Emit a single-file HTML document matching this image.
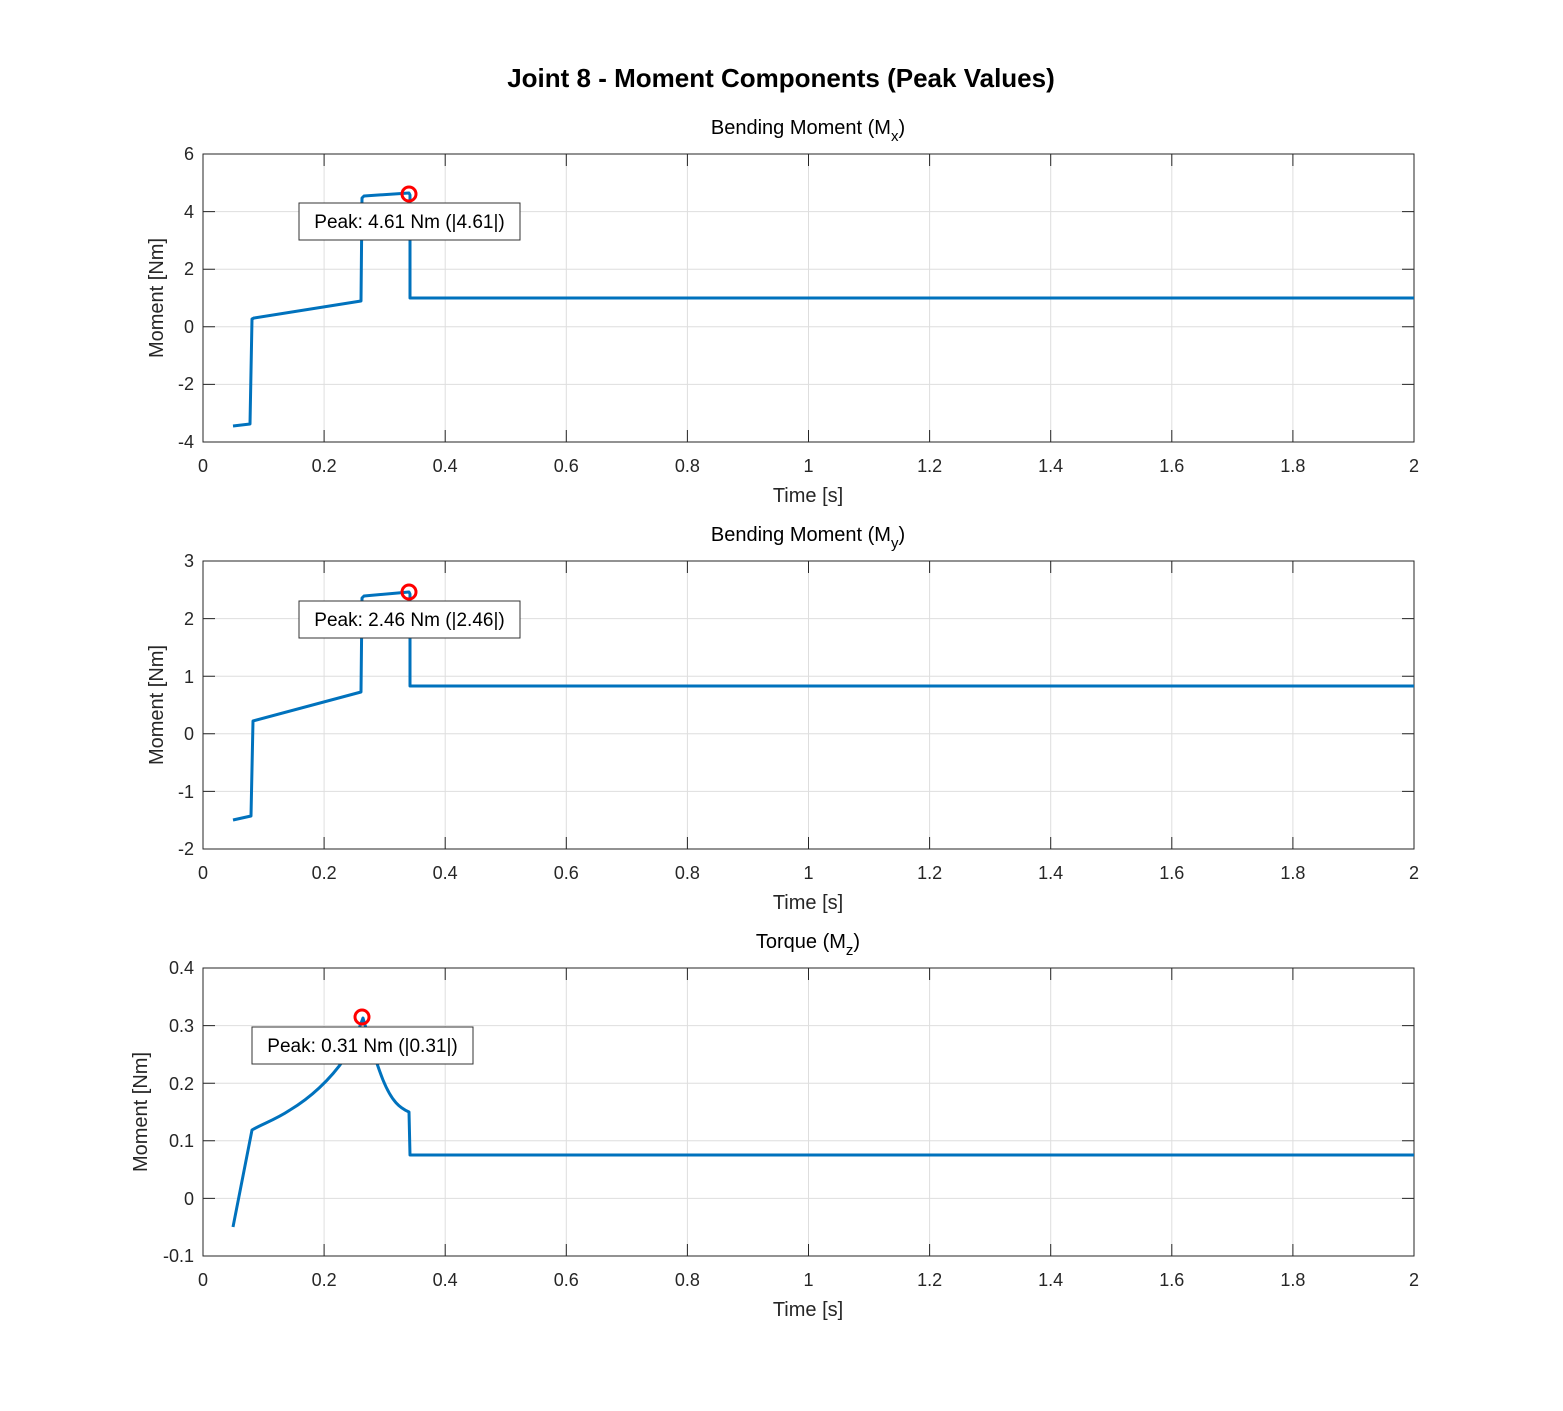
<!DOCTYPE html>
<html><head><style>body{margin:0;background:#fff}text{font-family:"Liberation Sans",Arial,sans-serif}</style></head><body>
<svg width="1563" height="1406" xmlns="http://www.w3.org/2000/svg">
<defs>
<g id="ax">
<g stroke="#dedede">
<line x1="324.1" y1="0" x2="324.1" y2="288"/><line x1="445.2" y1="0" x2="445.2" y2="288"/><line x1="566.3" y1="0" x2="566.3" y2="288"/><line x1="687.4" y1="0" x2="687.4" y2="288"/><line x1="808.5" y1="0" x2="808.5" y2="288"/><line x1="929.6" y1="0" x2="929.6" y2="288"/><line x1="1050.7" y1="0" x2="1050.7" y2="288"/><line x1="1171.8" y1="0" x2="1171.8" y2="288"/><line x1="1292.9" y1="0" x2="1292.9" y2="288"/>
<line x1="203" y1="57.6" x2="1414" y2="57.6"/><line x1="203" y1="115.2" x2="1414" y2="115.2"/><line x1="203" y1="172.8" x2="1414" y2="172.8"/><line x1="203" y1="230.4" x2="1414" y2="230.4"/>
</g>
<g stroke="#262626">
<path d="M324.1 0v12M445.2 0v12M566.3 0v12M687.4 0v12M808.5 0v12M929.6 0v12M1050.7 0v12M1171.8 0v12M1292.9 0v12M324.1 288v-12M445.2 288v-12M566.3 288v-12M687.4 288v-12M808.5 288v-12M929.6 288v-12M1050.7 288v-12M1171.8 288v-12M1292.9 288v-12M203 57.6h12M203 115.2h12M203 172.8h12M203 230.4h12M1414 57.6h-12M1414 115.2h-12M1414 172.8h-12M1414 230.4h-12"/>
<rect x="203" y="0" width="1211" height="288" fill="none"/>
</g>
<g font-size="18" fill="#262626" text-anchor="middle">
<text x="203" y="318">0</text><text x="324.1" y="318">0.2</text><text x="445.2" y="318">0.4</text><text x="566.3" y="318">0.6</text><text x="687.4" y="318">0.8</text><text x="808.5" y="318">1</text><text x="929.6" y="318">1.2</text><text x="1050.7" y="318">1.4</text><text x="1171.8" y="318">1.6</text><text x="1292.9" y="318">1.8</text><text x="1414" y="318">2</text>
</g>
<text x="808" y="348" font-size="20" text-anchor="middle" fill="#262626">Time [s]</text>
</g>
</defs>
<rect width="1563" height="1406" fill="#fff"/>
<text x="781" y="87" font-size="26" font-weight="bold" text-anchor="middle" fill="#000">Joint 8 - Moment Components (Peak Values)</text>

<use href="#ax" transform="translate(0,154)"/>
<g font-size="18" fill="#262626" text-anchor="end">
<text x="194" y="448">-4</text><text x="194" y="390">-2</text><text x="194" y="333">0</text><text x="194" y="275">2</text><text x="194" y="218">4</text><text x="194" y="160">6</text>
</g>
<text transform="translate(163,298) rotate(-90)" font-size="20" text-anchor="middle" fill="#262626">Moment [Nm]</text>
<text x="808" y="134" font-size="20" text-anchor="middle">Bending Moment (M<tspan font-size="15" dy="7">x</tspan><tspan dy="-7">)</tspan></text>
<polyline points="233,426 250,424 252,319 254,318 361,301 362,198 364,196 409,193 410,195 410,298 1414,298" fill="none" stroke="#0072BD" stroke-width="3" stroke-linejoin="round"/>
<circle cx="409" cy="194" r="7" fill="none" stroke="#f00" stroke-width="3"/>
<rect x="299" y="203" width="221" height="37" fill="#fff" stroke="#333"/>
<text x="409.5" y="228" font-size="19" text-anchor="middle">Peak: 4.61 Nm (|4.61|)</text>

<use href="#ax" transform="translate(0,561)"/>
<g font-size="18" fill="#262626" text-anchor="end">
<text x="194" y="855">-2</text><text x="194" y="798">-1</text><text x="194" y="740">0</text><text x="194" y="683">1</text><text x="194" y="625">2</text><text x="194" y="567">3</text>
</g>
<text transform="translate(163,705) rotate(-90)" font-size="20" text-anchor="middle" fill="#262626">Moment [Nm]</text>
<text x="808" y="541" font-size="20" text-anchor="middle">Bending Moment (M<tspan font-size="15" dy="7">y</tspan><tspan dy="-7">)</tspan></text>
<polyline points="233,820 251,816 253,721 361,692 362,598 364,596 409,592 410,594 410,686 1414,686" fill="none" stroke="#0072BD" stroke-width="3" stroke-linejoin="round"/>
<circle cx="409" cy="592" r="7" fill="none" stroke="#f00" stroke-width="3"/>
<rect x="299" y="601" width="221" height="37" fill="#fff" stroke="#333"/>
<text x="409.5" y="626" font-size="19" text-anchor="middle">Peak: 2.46 Nm (|2.46|)</text>

<use href="#ax" transform="translate(0,968)"/>
<g font-size="18" fill="#262626" text-anchor="end">
<text x="194" y="1262">-0.1</text><text x="194" y="1205">0</text><text x="194" y="1147">0.1</text><text x="194" y="1090">0.2</text><text x="194" y="1032">0.3</text><text x="194" y="974">0.4</text>
</g>
<text transform="translate(147,1112) rotate(-90)" font-size="20" text-anchor="middle" fill="#262626">Moment [Nm]</text>
<text x="808" y="948" font-size="20" text-anchor="middle">Torque (M<tspan font-size="15" dy="7">z</tspan><tspan dy="-7">)</tspan></text>
<path d="M233,1227 L252,1130 C262,1124 275,1120 290,1110 C310,1098 330,1080 345,1058 C352,1046 358,1032 363,1018 C368,1035 375,1060 383,1080 C392,1102 400,1108 409,1112 L410,1155 L1414,1155" fill="none" stroke="#0072BD" stroke-width="3" stroke-linejoin="round"/>
<circle cx="362" cy="1017" r="7" fill="none" stroke="#f00" stroke-width="3"/>
<rect x="252" y="1027" width="221" height="37" fill="#fff" stroke="#333"/>
<text x="362.5" y="1052" font-size="19" text-anchor="middle">Peak: 0.31 Nm (|0.31|)</text>
</svg>
</body></html>
